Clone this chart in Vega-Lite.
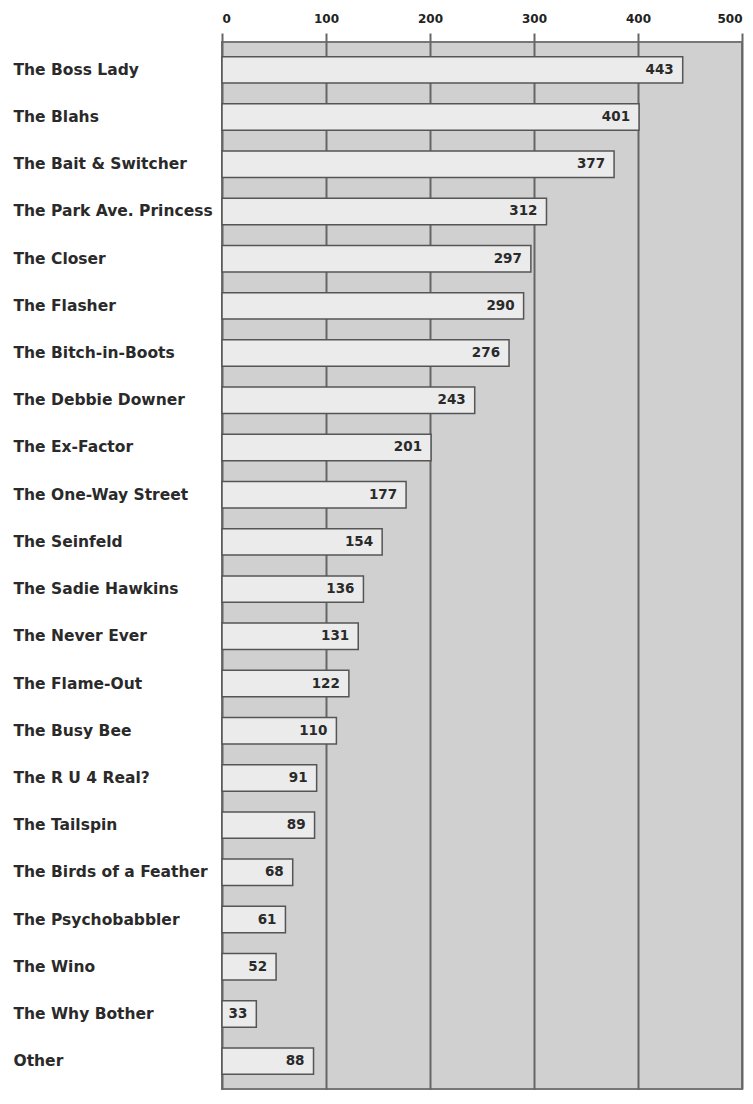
{
  "$schema": "https://vega.github.io/schema/vega-lite/v6.json",
  "autosize": "none",
  "width": 520,
  "height": 1047,
  "padding": {"left": 222, "top": 42, "right": 11, "bottom": 15},
  "background": "white",
  "data": {"values": [
    {"name": "The Boss Lady", "value": 443},
    {"name": "The Blahs", "value": 401},
    {"name": "The Bait & Switcher", "value": 377},
    {"name": "The Park Ave. Princess", "value": 312},
    {"name": "The Closer", "value": 297},
    {"name": "The Flasher", "value": 290},
    {"name": "The Bitch-in-Boots", "value": 276},
    {"name": "The Debbie Downer", "value": 243},
    {"name": "The Ex-Factor", "value": 201},
    {"name": "The One-Way Street", "value": 177},
    {"name": "The Seinfeld", "value": 154},
    {"name": "The Sadie Hawkins", "value": 136},
    {"name": "The Never Ever", "value": 131},
    {"name": "The Flame-Out", "value": 122},
    {"name": "The Busy Bee", "value": 110},
    {"name": "The R U 4 Real?", "value": 91},
    {"name": "The Tailspin", "value": 89},
    {"name": "The Birds of a Feather", "value": 68},
    {"name": "The Psychobabbler", "value": 61},
    {"name": "The Wino", "value": 52},
    {"name": "The Why Bother", "value": 33},
    {"name": "Other", "value": 88}
  ]},
  "encoding": {
    "y": {
      "field": "name", "type": "nominal", "sort": null, "title": null,
      "scale": {"paddingInner": 0.44, "paddingOuter": 0.31},
      "axis": {"domain": false, "ticks": false, "labelAlign": "left", "labelPadding": 209, "labelLimit": 240,
               "labelFont": "DejaVu Sans", "labelFontWeight": "bold", "labelFontSize": 15.5, "labelColor": "#2a2a2a"}
    }
  },
  "layer": [
    {
      "mark": {"type": "bar", "fill": "#ebebeb", "stroke": "#555", "strokeWidth": 1.5},
      "encoding": {
        "x": {
          "field": "value", "type": "quantitative", "title": null,
          "scale": {"domain": [0, 500], "nice": false},
          "axis": {"orient": "top", "values": [0, 100, 200, 300, 400, 500], "domain": false,
                   "tickSize": 9, "tickColor": "#666", "tickWidth": 2,
                   "labelFont": "DejaVu Sans", "labelFontWeight": "bold", "labelFontSize": 12, "labelColor": "#222",
                   "labelPadding": 8,
                   "grid": true, "gridColor": "#666", "gridWidth": 2, "gridOpacity": 1}
        }
      }
    },
    {
      "mark": {"type": "text", "align": "right", "dx": -9, "font": "DejaVu Sans", "fontWeight": "bold", "fontSize": 13.5, "color": "#2a2a2a"},
      "encoding": {
        "x": {"field": "value", "type": "quantitative"},
        "text": {"field": "value", "type": "quantitative"}
      }
    }
  ],
  "config": {
    "view": {"fill": "#d0d0d0", "stroke": "#777", "strokeWidth": 2}
  }
}
